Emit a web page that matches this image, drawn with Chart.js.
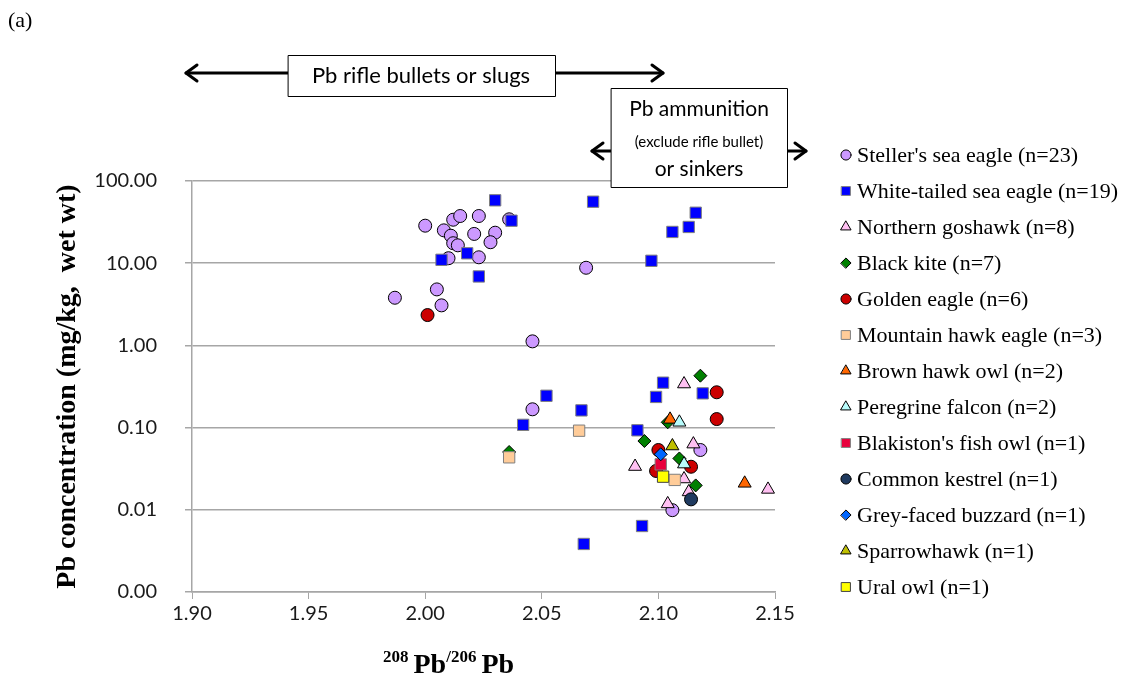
<!DOCTYPE html>
<html>
<head>
<meta charset="utf-8">
<title>Pb isotope ratio vs Pb concentration</title>
<script src="https://cdn.jsdelivr.net/npm/chart.js@4.4.1/dist/chart.umd.min.js"></script>
<style>
  html, body { margin: 0; padding: 0; background: #fff; }
  #wrap { position: relative; width: 1132px; height: 684px; }
  #plot { position: absolute; left: 0; top: 0; }
  #xTitle {
    position: absolute; left: 383px; top: 650px;
    font: bold 28px "Liberation Serif", "Times New Roman", serif;
    line-height: 28px; white-space: nowrap; color: #000;
  }
  #xTitle sup { font-size: 17px; vertical-align: baseline; position: relative; top: -11px; margin-right: 5px; }
</style>
</head>
<body>
<div id="wrap">
  <canvas id="plot" width="1132" height="684"></canvas>
  <div id="xTitle"><sup>208</sup>Pb<sup>/206</sup>Pb</div>
</div>
<script>
// 208Pb/206Pb ratio (x) and Pb concentration in mg/kg wet wt (y), one array per species
const stellerSeaEagle = [
  [2.000, 28.6], [2.008, 25.1], [2.012, 33.8], [2.015, 37.5], [2.023, 37.5],
  [2.011, 21.6], [2.012, 17.5], [2.014, 16.5], [2.021, 22.7], [2.030, 23.5],
  [2.028, 18.0], [2.023, 11.8], [2.010, 11.5], [2.036, 34.2], [2.069, 8.8],
  [1.987, 3.8], [2.005, 4.8], [2.007, 3.07], [2.046, 1.12], [2.046, 0.167],
  [2.118, 0.0534], [2.106, 0.0099]
];
const whiteTailedSeaEagle = [
  [2.030, 58.2], [2.072, 56.0], [2.037, 32.9], [2.018, 13.2], [2.007, 11.0],
  [2.023, 6.9], [2.116, 41.1], [2.113, 27.6], [2.106, 24.0], [2.097, 10.7],
  [2.102, 0.352], [2.099, 0.236], [2.052, 0.244], [2.067, 0.162], [2.042, 0.108],
  [2.091, 0.0927], [2.093, 0.00635], [2.068, 0.00384], [2.119, 0.261]
];
const northernGoshawk = [
  [2.111, 0.339], [2.115, 0.063], [2.090, 0.0336], [2.111, 0.0237],
  [2.113, 0.0165], [2.104, 0.0118], [2.147, 0.0177]
];
const blackKite = [
  [2.118, 0.428], [2.104, 0.116], [2.094, 0.0687], [2.109, 0.0421],
  [2.116, 0.0198], [2.036, 0.0505]
];
const goldenEagle = [
  [2.001, 2.34], [2.125, 0.269], [2.125, 0.127], [2.100, 0.0534],
  [2.114, 0.0334], [2.099, 0.0297]
];
const mountainHawkEagle = [[2.036, 0.0435], [2.066, 0.0917], [2.107, 0.0231]];
const brownHawkOwl = [[2.105, 0.126], [2.137, 0.021]];
const peregrineFalcon = [[2.109, 0.116], [2.111, 0.036]];
const blakistonsFishOwl = [[2.101, 0.0357]];
const commonKestrel = [[2.114, 0.0134]];
const greyFacedBuzzard = [[2.101, 0.0473]];
const sparrowhawk = [[2.106, 0.0597]];
const uralOwl = [[2.102, 0.0253]];

const speciesNames = [
  "Steller's sea eagle (n=23)", "White-tailed sea eagle (n=19)", "Northern goshawk (n=8)",
  "Black kite (n=7)", "Golden eagle (n=6)", "Mountain hawk eagle (n=3)", "Brown hawk owl (n=2)",
  "Peregrine falcon (n=2)", "Blakiston's fish owl (n=1)", "Common kestrel (n=1)",
  "Grey-faced buzzard (n=1)", "Sparrowhawk (n=1)", "Ural owl (n=1)"
];
const speciesData = [
  stellerSeaEagle, whiteTailedSeaEagle, northernGoshawk, blackKite, goldenEagle,
  mountainHawkEagle, brownHawkOwl, peregrineFalcon, blakistonsFishOwl, commonKestrel,
  greyFacedBuzzard, sparrowhawk, uralOwl
];

const xTicks = [1.90, 1.95, 2.00, 2.05, 2.10, 2.15];
const yTicks = [0.001, 0.01, 0.1, 1, 10, 100];

// marker look for each species
const markers = [
  { shape: 'circle',   fill: '#CC99FF', line: '#000000', r: 6.5 },
  { shape: 'rect',     fill: '#0000FF', line: '#7F7F7F', r: 8 },
  { shape: 'triangle', fill: '#FFC0F2', line: '#000000', r: 7.5 },
  { shape: 'rectRot',  fill: '#008000', line: '#000000', r: 6.5 },
  { shape: 'circle',   fill: '#CC0000', line: '#000000', r: 6.5 },
  { shape: 'rect',     fill: '#FFCC99', line: '#7F7F7F', r: 8 },
  { shape: 'triangle', fill: '#FF6600', line: '#000000', r: 7.5 },
  { shape: 'triangle', fill: '#B8FCFC', line: '#000000', r: 7.5 },
  { shape: 'rect',     fill: '#E8003C', line: '#7F7F7F', r: 8 },
  { shape: 'circle',   fill: '#1F3A5F', line: '#000000', r: 6.5 },
  { shape: 'rectRot',  fill: '#0066FF', line: '#000000', r: 6.5 },
  { shape: 'triangle', fill: '#BFBF00', line: '#000000', r: 7.5 },
  { shape: 'rect',     fill: '#FFFF00', line: '#404040', r: 8 }
];

const datasets = speciesData.map((pts, i) => ({
  label: speciesNames[i],
  data: pts.map(p => ({ x: p[0], y: p[1] })),
  pointStyle: markers[i].shape,
  pointRadius: markers[i].r,
  pointHoverRadius: markers[i].r,
  backgroundColor: markers[i].fill,
  borderColor: markers[i].line,
  pointBorderWidth: 1,
  showLine: false,
  order: speciesData.length - i   // later species sit on top
}));

const gridGrey = '#A6A6A6';

function drawArrowHead(ctx, x, y, dir) {
  ctx.beginPath();
  ctx.moveTo(x - dir * 11, y - 8);
  ctx.lineTo(x, y);
  ctx.lineTo(x - dir * 11, y + 8);
  ctx.stroke();
}

function drawBox(ctx, x, y, w, h) {
  ctx.fillStyle = '#fff';
  ctx.fillRect(x, y, w, h);
  ctx.lineWidth = 1;
  ctx.strokeStyle = '#000';
  ctx.strokeRect(x + 0.5, y + 0.5, w, h);
}

// range arrows, boxed notes, panel letter and legend
const notesAndLegend = {
  id: 'notesAndLegend',
  afterDraw(chart) {
    const ctx = chart.ctx;
    ctx.save();

    ctx.fillStyle = '#000';
    ctx.font = '22px "Liberation Serif", "Times New Roman", serif';
    ctx.textAlign = 'left';
    ctx.textBaseline = 'middle';
    ctx.fillText('(a)', 8, 21);

    // rifle bullet range
    ctx.strokeStyle = '#000';
    ctx.lineWidth = 3;
    ctx.lineCap = 'round';
    ctx.lineJoin = 'round';
    ctx.beginPath();
    ctx.moveTo(186, 73); ctx.lineTo(288, 73);
    ctx.moveTo(556, 73); ctx.lineTo(663, 73);
    ctx.stroke();
    drawArrowHead(ctx, 186, 73, -1);
    drawArrowHead(ctx, 663, 73, 1);
    drawBox(ctx, 288, 55, 267, 41);
    ctx.fillStyle = '#000';
    ctx.textAlign = 'center';
    ctx.font = '22px Lato, "Open Sans", sans-serif';
    ctx.fillText('Pb rifle bullets or slugs', 421, 76);

    // ammunition / sinkers range
    ctx.lineWidth = 3;
    ctx.beginPath();
    ctx.moveTo(592, 151); ctx.lineTo(611, 151);
    ctx.moveTo(787, 151); ctx.lineTo(806, 151);
    ctx.stroke();
    drawArrowHead(ctx, 592, 151, -1);
    drawArrowHead(ctx, 806, 151, 1);
    drawBox(ctx, 611, 88, 176, 99);
    ctx.fillStyle = '#000';
    ctx.font = '21px Lato, "Open Sans", sans-serif';
    ctx.fillText('Pb ammunition', 699, 109);
    ctx.font = '15px Lato, "Open Sans", sans-serif';
    ctx.fillText('(exclude rifle bullet)', 699, 142);
    ctx.font = '21px Lato, "Open Sans", sans-serif';
    ctx.fillText('or sinkers', 699, 169);

    // legend
    ctx.textAlign = 'left';
    ctx.font = '22px "Liberation Serif", "Times New Roman", serif';
    speciesNames.forEach((name, i) => {
      const y = 155 + i * 36;
      const m = markers[i];
      ctx.fillStyle = m.fill;
      ctx.strokeStyle = m.line;
      ctx.lineWidth = 1;
      Chart.helpers.drawPoint(ctx, {
        pointStyle: m.shape, rotation: 0, radius: m.r * 0.78, borderWidth: 1
      }, 846, y);
      ctx.fillStyle = '#000';
      ctx.fillText(name, 857, y + 1);
    });

    ctx.restore();
  }
};

new Chart(document.getElementById('plot'), {
  type: 'scatter',
  data: { datasets },
  options: {
    responsive: false,
    animation: false,
    events: [],
    layout: { padding: { left: 0, top: 181, right: 357, bottom: 0 } },
    plugins: {
      legend: { display: false },
      tooltip: { enabled: false }
    },
    scales: {
      x: {
        type: 'linear',
        min: 1.90,
        max: 2.15,
        afterFit(scale) { scale.height = 92; },
        afterBuildTicks(scale) { scale.ticks = xTicks.map(v => ({ value: v })); },
        ticks: {
          padding: 3,
          color: '#1a1a1a',
          font: { family: 'Lato', size: 20 },
          callback: v => Number(v).toFixed(2)
        },
        grid: { drawOnChartArea: false, drawTicks: true, tickLength: 7, color: gridGrey, tickColor: gridGrey },
        border: { display: true, color: gridGrey, width: 1.5 }
      },
      y: {
        type: 'logarithmic',
        min: 0.001,
        max: 100,
        afterFit(scale) { scale.width = 192; },
        afterBuildTicks(scale) { scale.ticks = yTicks.map(v => ({ value: v })); },
        ticks: {
          padding: 28,
          color: '#1a1a1a',
          font: { family: 'Lato', size: 20 },
          callback: v => Number(v).toFixed(2)
        },
        grid: { drawTicks: true, tickLength: 7, color: gridGrey, tickColor: gridGrey, lineWidth: 1.5 },
        border: { display: true, color: gridGrey, width: 1.5 },
        title: {
          display: true,
          text: 'Pb concentration (mg/kg,  wet wt)',
          color: '#000',
          font: { family: '"Liberation Serif", "Times New Roman", serif', size: 28, weight: 'bold' },
          padding: { top: 51, bottom: 0 }
        }
      }
    }
  },
  plugins: [notesAndLegend]
});
</script>
</body>
</html>
